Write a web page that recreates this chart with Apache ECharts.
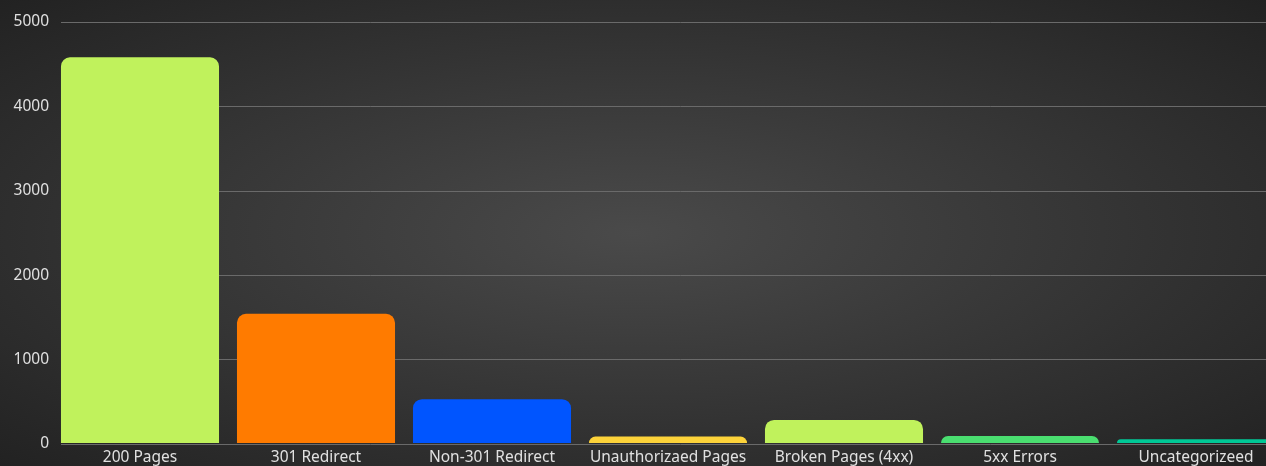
<!DOCTYPE html>
<html>
<head>
<meta charset="utf-8">
<script src="https://cdn.jsdelivr.net/npm/echarts@6/dist/echarts.min.js"></script>
<style>
html,body{margin:0;padding:0;width:1266px;height:466px;overflow:hidden;
background:radial-gradient(ellipse at 50% 50%, #4a4a4a 0%, #3a3a3a 40%, #2a2a2a 80%, #222 100%);}
#chart{width:1300px;height:466px;}
</style>
</head>
<body>
<div id="chart"></div>
<script>
const categories = ["200 Pages","301 Redirect","Non-301 Redirect","Unauthorizaed Pages","Broken Pages (4xx)","5xx Errors","Uncategorizeed"];
const values = [4580, 1535, 520, 77, 274, 84, 45];
const barColors = ["#c0f25c","#ff7b00","#0055ff","#fdd33a","#c0f25c","#4ade70","#00c896"];
const yTicks = [0, 1000, 2000, 3000, 4000, 5000];

const yMin = yTicks[0], yMax = yTicks[yTicks.length-1];
const chart = echarts.init(document.getElementById('chart'), null, {renderer:'canvas'});
chart.setOption({
  backgroundColor: 'transparent',
  animation: false,
  grid: [
    {left: 52, width: 1232, top: 22, bottom: 22, containLabel: false},
    {left: 61, right: 0, top: 22, bottom: 22, containLabel: false}
  ],
  xAxis: [{
    gridIndex: 0,
    type: 'category',
    data: categories,
    axisLine: {show: false},
    axisTick: {show: false},
    axisLabel: {color: '#e0e0e0', fontSize: 15.5, fontFamily: 'Noto Sans', margin: 7, interval: 0}
  }, {
    gridIndex: 1, type: 'value', show: false
  }],
  yAxis: [{
    gridIndex: 0,
    type: 'value', min: yMin, max: yMax, interval: 1000,
    show: false, splitLine: {show: false}
  }, {
    gridIndex: 1,
    type: 'value', min: yMin, max: yMax, interval: 1000,
    axisLine: {show: false},
    axisTick: {show: false},
    axisLabel: {color: '#e0e0e0', fontSize: 15.5, fontFamily: 'Noto Sans', margin: 12, formatter: v => String(v)},
    splitLine: {lineStyle: {color: '#6a6a6a', width: 1}}
  }],
  series: [{
    type: 'bar',
    xAxisIndex: 0, yAxisIndex: 0,
    data: values.map((v, i) => ({value: v, itemStyle: {color: barColors[i]}})),
    barCategoryGap: '10.2%',
    itemStyle: {borderRadius: [9, 9, 0, 0]}
  }]
});
</script>
</body>
</html>
